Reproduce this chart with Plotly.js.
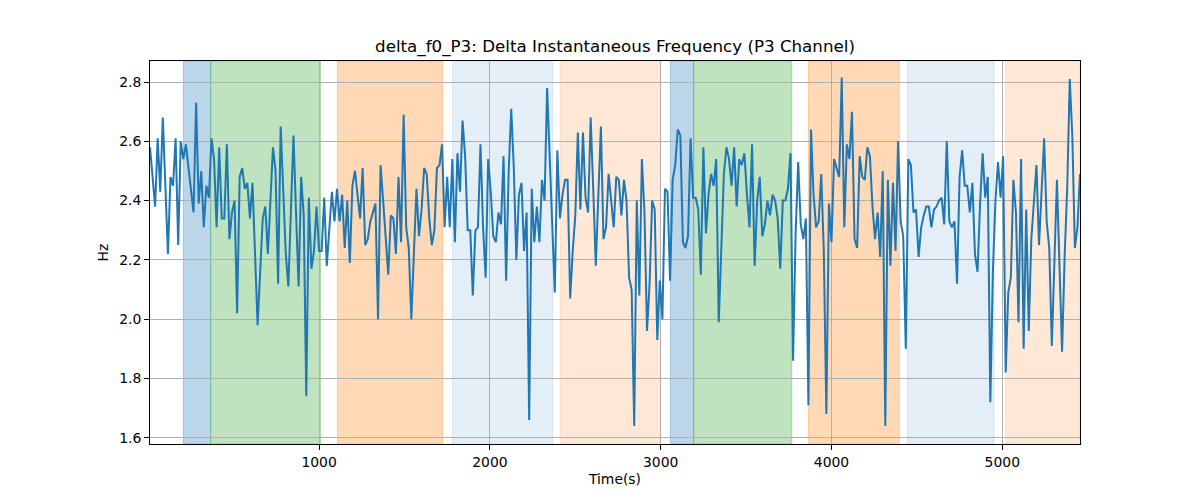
<!DOCTYPE html>
<html>
<head>
<meta charset="utf-8">
<script src="https://cdn.plot.ly/plotly-3.0.1.min.js"></script>
<style>
  body { margin: 0; background: #fff; }
  #chart { width: 1200px; height: 500px; }
</style>
</head>
<body>
<div id="chart"></div>
<script>
// delta f0 for the P3 channel, one value every 15 s
var tStart = 10, tStep = 15;
var deltaF0 = [
  2.58, 2.48, 2.38, 2.61, 2.43, 2.68, 2.45, 2.22, 2.48, 2.45,
  2.61, 2.25, 2.60, 2.54, 2.59, 2.52, 2.44, 2.36, 2.73, 2.39,
  2.50, 2.31, 2.45, 2.41, 2.61, 2.54, 2.31, 2.58, 2.34, 2.34,
  2.59, 2.27, 2.36, 2.40, 2.02, 2.48, 2.51, 2.44, 2.46, 2.34,
  2.46, 2.22, 1.98, 2.16, 2.34, 2.38, 2.22, 2.40, 2.58, 2.50,
  2.12, 2.65, 2.43, 2.22, 2.11, 2.36, 2.62, 2.36, 2.11, 2.48,
  2.35, 1.74, 2.41, 2.17, 2.23, 2.38, 2.23, 2.23, 2.41, 2.18,
  2.30, 2.43, 2.33, 2.44, 2.33, 2.42, 2.24, 2.40, 2.19, 2.45,
  2.50, 2.42, 2.34, 2.51, 2.25, 2.27, 2.33, 2.36, 2.39, 2.00,
  2.52, 2.40, 2.28, 2.15, 2.35, 2.34, 2.22, 2.48, 2.26, 2.69,
  2.31, 2.24, 2.00, 2.22, 2.44, 2.28, 2.37, 2.51, 2.49, 2.34,
  2.25, 2.30, 2.51, 2.52, 2.59, 2.31, 2.48, 2.31, 2.54, 2.26,
  2.56, 2.43, 2.67, 2.55, 2.30, 2.30, 2.08, 2.30, 2.31, 2.59,
  2.31, 2.14, 2.54, 2.43, 2.28, 2.26, 2.36, 2.32, 2.55, 2.13,
  2.50, 2.71, 2.51, 2.20, 2.42, 2.46, 2.23, 2.36, 1.66, 2.44,
  2.26, 2.38, 2.26, 2.47, 2.40, 2.78, 2.56, 2.31, 2.09, 2.57,
  2.34, 2.42, 2.47, 2.47, 2.07, 2.23, 2.35, 2.63, 2.37, 2.63,
  2.41, 2.36, 2.68, 2.44, 2.18, 2.42, 2.65, 2.27, 2.31, 2.49,
  2.40, 2.31, 2.48, 2.47, 2.35, 2.47, 2.40, 2.14, 2.10, 1.64,
  2.40, 2.08, 2.54, 2.36, 1.96, 2.12, 2.40, 2.37, 1.93, 2.13,
  2.00, 2.44, 2.43, 2.13, 2.47, 2.52, 2.64, 2.62, 2.26, 2.24,
  2.28, 2.61, 2.41, 2.41, 2.37, 2.15, 2.58, 2.29, 2.42, 2.49,
  2.45, 2.54, 1.99, 2.26, 2.49, 2.58, 2.54, 2.45, 2.58, 2.38,
  2.54, 2.52, 2.56, 2.42, 2.31, 2.59, 2.18, 2.40, 2.48, 2.28,
  2.32, 2.40, 2.35, 2.42, 2.40, 2.34, 2.17, 2.40, 2.40, 2.44,
  2.56, 1.86, 2.29, 2.53, 2.32, 2.27, 2.34, 1.71, 2.64, 2.42,
  2.31, 2.33, 2.49, 2.23, 1.68, 2.39, 2.26, 2.54, 2.51, 2.48,
  2.815, 2.31, 2.59, 2.54, 2.70, 2.27, 2.24, 2.55, 2.48, 2.47,
  2.58, 2.55, 2.38, 2.27, 2.36, 2.21, 2.50, 1.64, 2.47, 2.18,
  2.46, 2.23, 2.60, 2.33, 2.28, 1.90, 2.54, 2.52, 2.36, 2.37,
  2.21, 2.31, 2.35, 2.38, 2.38, 2.31, 2.37, 2.38, 2.40, 2.41,
  2.32, 2.60, 2.33, 2.31, 2.33, 2.12, 2.48, 2.57, 2.45, 2.45,
  2.36, 2.46, 2.22, 2.16, 2.39, 2.56, 2.41, 2.48, 1.72, 2.16,
  2.40, 2.53, 2.41, 2.55, 1.82, 2.09, 2.14, 2.47, 2.36, 1.99,
  2.54, 1.90, 2.37, 1.96, 2.27, 2.41, 2.52, 2.25, 2.46, 2.61,
  2.33, 2.24, 1.91, 2.19, 2.47, 2.18, 1.89, 2.21, 2.44, 2.81,
  2.62, 2.24, 2.31, 2.49
];
var timeS = deltaF0.map((v, i) => tStart + i * tStep);

// shaded phases
var spanStart = [205, 365, 1107, 1780, 2411, 3057, 3193, 3865, 4444, 5020];
var spanEnd   = [365, 1008, 1724, 2369, 2998, 3193, 3768, 4397, 4952, 5455];
var spanColor = [
  "rgba(31,119,180,0.3)", "rgba(44,160,44,0.3)", "rgba(255,127,14,0.3)",
  "rgba(31,119,180,0.12)", "rgba(255,127,14,0.17)",
  "rgba(31,119,180,0.3)", "rgba(44,160,44,0.3)", "rgba(255,127,14,0.3)",
  "rgba(31,119,180,0.12)", "rgba(255,127,14,0.17)"
];

var xTicks = [1000, 2000, 3000, 4000, 5000];
var yTicks = [1.6, 1.8, 2.0, 2.2, 2.4, 2.6, 2.8];

var shapes = spanStart.map((s, i) => ({
  type: "rect", xref: "x", yref: "paper",
  x0: s, x1: spanEnd[i], y0: 0, y1: 1,
  fillcolor: spanColor[i],
  line: {color: spanColor[i], width: 1},
  layer: "below"
}));

var trace = {
  x: timeS, y: deltaF0,
  type: "scatter", mode: "lines",
  line: {color: "#1f77b4", width: 2},
  hoverinfo: "skip"
};

var layout = {
  width: 1200, height: 500,
  margin: {l: 150, r: 120, t: 61, b: 56},
  paper_bgcolor: "white", plot_bgcolor: "white",
  font: {family: "DejaVu Sans", color: "black", size: 13.9},
  showlegend: false,
  title: {
    text: "delta_f0_P3: Delta Instantaneous Frequency (P3 Channel)",
    font: {size: 16.7}, x: 0.5, xref: "paper",
    y: 1 - 46 / 500, yref: "container", yanchor: "middle"
  },
  xaxis: {
    range: [timeS[0], timeS[timeS.length - 1]],
    tickvals: xTicks, ticks: "outside", ticklen: 5, tickcolor: "black",
    showgrid: true, gridcolor: "#b0b0b0", gridwidth: 1,
    zeroline: false, showline: true, linecolor: "black", linewidth: 1, mirror: true,
    title: {text: "Time(s)", font: {size: 13.9}, standoff: 5}
  },
  yaxis: {
    range: [1.579, 2.871],
    tickvals: yTicks, tickformat: ".1f", ticks: "outside", ticklen: 5, tickcolor: "black",
    showgrid: true, gridcolor: "#b0b0b0", gridwidth: 1,
    zeroline: false, showline: true, linecolor: "black", linewidth: 1, mirror: true,
    title: {text: "Hz", font: {size: 13.9}, standoff: 7}
  },
  shapes: shapes
};

Plotly.newPlot("chart", [trace], layout, {staticPlot: true});
</script>
</body>
</html>
